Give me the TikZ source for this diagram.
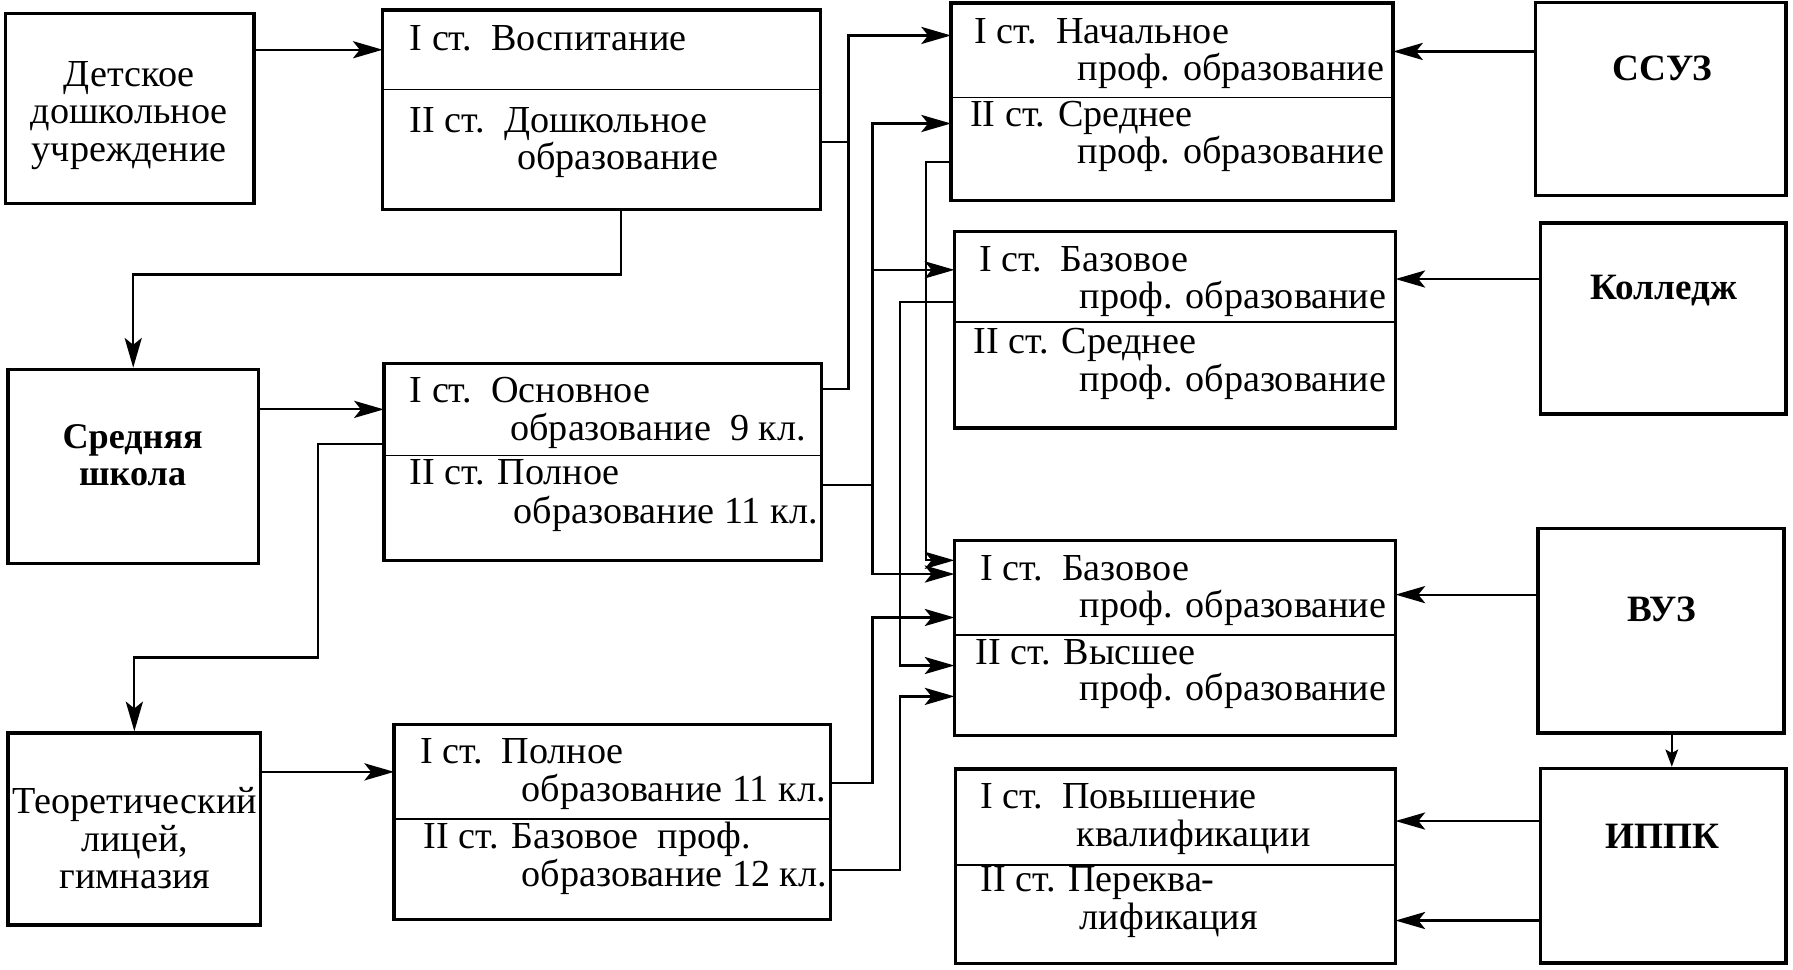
\documentclass[tikz,border=0pt]{standalone}
\usepackage{fontspec}
\setmainfont{Liberation Serif}
\usetikzlibrary{arrows.meta,fit}

\begin{document}
\begin{tikzpicture}[x=0.2mm,y=-0.2mm,
  frame/.style={draw,line width=1.7pt,inner sep=0pt},
  tier/.style={inner sep=0pt},
  sep/.style={line width=0.8pt},
  line/.style={line width=1.1pt},
  arr/.style={line width=1.1pt,-{Stealth[length=5.2mm,width=3mm,inset=1.2mm]}},
  short/.style={line width=1.1pt,-{Stealth[length=3mm,width=2.2mm,inset=0.6mm]}},
  txt/.style={anchor=base west,inner sep=0pt,font=\fontsize{19}{18.8}\selectfont},
  lbl/.style={align=center,inner sep=0pt,font=\fontsize{19}{18.8}\selectfont},
  inst/.style={inner sep=0pt,font=\fontsize{18.5}{20}\selectfont\bfseries}]
\useasboundingbox (0,0) rectangle (1568,848);

% Left column: institutions
\node[frame,fit={(5,12) (222,178)}] (dou) {};
\node[lbl] (doutxt) at (113,101) {Детское\\дошкольное\\учреждение};
\node[frame,fit={(7,323) (226,493)}] (school) {};
\node[lbl,font=\fontsize{18}{18.8}\selectfont\bfseries] (schooltxt) at (116,398) {Средняя\\школа};
\node[frame,fit={(7,641) (228,809)}] (lyceum) {};
\node[lbl] (lyceumtxt) at (118,733) {Теоретический\\лицей,\\гимназия};

% Second column: school stages
\node[tier,fit={(335,9) (717,78)}] (bI) {};
\node[tier,fit={(335,78) (717,183)}] (bII) {};
\node[frame,fit=(bI)(bII)] (b) {};
\draw[sep] (bI.south west) -- (bI.south east);
\node[txt] (bIa) at (358,44) {I ст.\ \ Воспитание};
\node[txt] (bIIa) at (358,116) {II ст.\ \ Дошкольное};
\node[txt] (bIIb) at (452,148) {образование};

\node[tier,fit={(336,318) (718,398)}] (dI) {};
\node[tier,fit={(336,398) (718,490)}] (dII) {};
\node[frame,fit=(dI)(dII)] (d) {};
\draw[sep] (dI.south west) -- (dI.south east);
\node[txt] (dIa) at (358,352) {I ст.\ \ Основное};
\node[txt] (dIb) at (446,385) {образование\ \ 9 кл.};
\node[txt] (dIIa) at (358,424) {II ст. Полное};
\node[txt] (dIIb) at (449,458) {образование 11 кл.};

\node[tier,fit={(345,634) (726,716)}] (fI) {};
\node[tier,fit={(345,716) (726,804)}] (fII) {};
\node[frame,fit=(fI)(fII)] (f) {};
\draw[sep] (fI.south west) -- (fI.south east);
\node[txt] (fIa) at (367,668) {I ст.\ \ Полное};
\node[txt] (fIb) at (456,701) {образование 11 кл.};
\node[txt] (fIIa) at (370,742) {II ст. Базовое\ \ проф.};
\node[txt] (fIIb) at (456,775) {образование 12 кл.};

% Third column: professional stages
\node[tier,fit={(832,3) (1218,85)}] (gI) {};
\node[tier,fit={(832,85) (1218,175)}] (gII) {};
\node[frame,fit=(gI)(gII)] (g) {};
\draw[sep] (gI.south west) -- (gI.south east);
\node[txt] (gIa) at (852,38) {I ст.\ \ Начальное};
\node[txt] (gIb) at (942,70) {проф. образование};
\node[txt] (gIIa) at (848,111) {II ст. Среднее};
\node[txt] (gIIb) at (942,143) {проф. образование};

\node[tier,fit={(835,203) (1220,281)}] (hI) {};
\node[tier,fit={(835,281) (1220,374)}] (hII) {};
\node[frame,fit=(hI)(hII)] (h) {};
\draw[sep] (hI.south west) -- (hI.south east);
\node[txt] (hIa) at (856,237) {I ст.\ \ Базовое};
\node[txt] (hIb) at (944,270) {проф. образование};
\node[txt] (hIIa) at (851,309) {II ст. Среднее};
\node[txt] (hIIb) at (944,342) {проф. образование};

\node[tier,fit={(835,473) (1220,555)}] (iI) {};
\node[tier,fit={(835,555) (1220,643)}] (iII) {};
\node[frame,fit=(iI)(iII)] (i) {};
\draw[sep] (iI.south west) -- (iI.south east);
\node[txt] (iIa) at (857,508) {I ст.\ \ Базовое};
\node[txt] (iIb) at (944,540) {проф. образование};
\node[txt] (iIIa) at (853,581) {II ст. Высшее};
\node[txt] (iIIb) at (944,613) {проф. образование};

\node[tier,fit={(836,673) (1220,756)}] (jI) {};
\node[tier,fit={(836,756) (1220,842)}] (jII) {};
\node[frame,fit=(jI)(jII)] (j) {};
\draw[sep] (jI.south west) -- (jI.south east);
\node[txt] (jIa) at (857,707) {I ст.\ \ Повышение};
\node[txt] (jIb) at (941,740) {квалификации};
\node[txt] (jIIa) at (857,780) {II ст. Переква-};
\node[txt] (jIIb) at (944,813) {лификация};

% Right column: institutions
\node[frame,fit={(1343,2) (1562,171)}] (ssuz) {};
\node[inst] (ssuztxt) at (1454,60) {ССУЗ};
\node[frame,fit={(1347,195) (1562,362)}] (coll) {};
\node[inst] (colltxt) at (1455,254) {Колледж};
\node[frame,fit={(1345,462) (1560,641)}] (vuz) {};
\node[inst] (vuztxt) at (1453,533) {ВУЗ};
\node[frame,fit={(1347,672) (1562,842)}] (ippk) {};
\node[inst] (ippktxt) at (1454,731) {ИППК};

% left side connectors
\draw[arr] (dou.east |- bI.west) -- (bI.west);
\draw[arr] (bII.south -| 543,0) -- (543,240) -| (school.north);
\draw[arr] (school.east |- dI.west) -- (dI.west);
\draw[arr] (dI.west |- 0,388) -| (278,575) -| (lyceum.north);
\draw[arr] (lyceum.east |- fI.west) -- (fI.west);

% buses between the columns
\coordinate (busA) at (742,0);
\coordinate (busB) at (763,0);
\coordinate (busD) at (787,0);
\coordinate (busC) at (810,0);
\draw[line] (bII.east |- 0,124) -- (busA |- 0,124);
\draw[arr] (dI.east |- 0,340) -| (busA |- 0,31) -- (gI.west |- 0,31);
\draw[line] (dII.east |- 0,424) -- (busB |- 0,424);
\draw[arr] (busB |- 0,424) |- (gII.west |- 0,108);
\draw[arr] (busB |- 0,236) -- (hI.west |- 0,236);
\draw[arr] (busB |- 0,424) |- (iI.west |- 0,502);
\draw[arr] (gII.west |- 0,142) -| (busC |- 0,490) -- (iI.west |- 0,490);
\draw[arr] (hI.west |- 0,264) -| (busD |- 0,582) -- (iII.west |- 0,582);
\draw[arr] (fI.east |- 0,685) -| (busB |- 0,540) -- (iI.west |- 0,540);
\draw[arr] (fII.east |- 0,761) -| (busD |- 0,609) -- (iII.west |- 0,609);

% right side connectors
\draw[arr] (ssuz.west |- 0,45) -- (gI.east |- 0,45);
\draw[arr] (coll.west |- 0,244) -- (hI.east |- 0,244);
\draw[arr] (vuz.west |- 0,520) -- (iI.east |- 0,520);
\draw[arr] (ippk.west |- 0,718) -- (jI.east |- 0,718);
\draw[arr] (ippk.west |- 0,805) -- (jII.east |- 0,805);
\draw[short] (vuz.south -| 1462,0) -- (ippk.north -| 1462,0);
\end{tikzpicture}
\end{document}
